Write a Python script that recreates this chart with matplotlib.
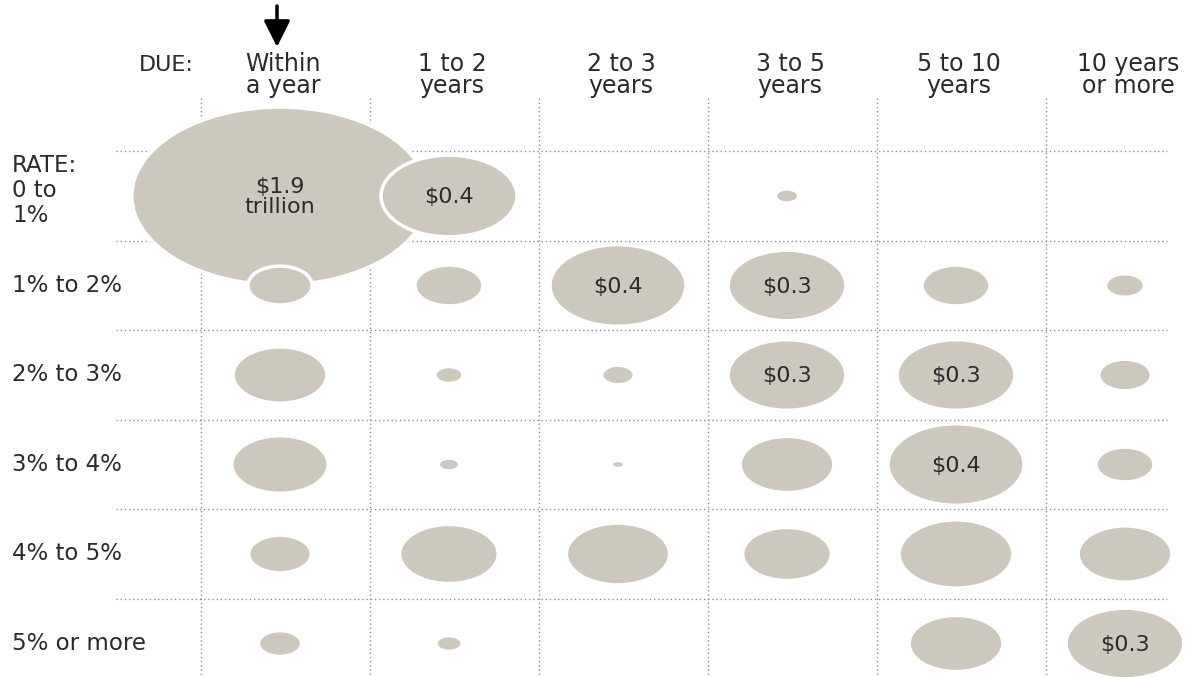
import matplotlib
matplotlib.use("Agg")
import matplotlib.pyplot as plt
from matplotlib.patches import Ellipse
import numpy as np

plt.rcParams['font.family'] = ['DejaVu Sans']

# ---- data (trillions of dollars) ----
due_labels = ["Within\na year", "1 to 2\nyears", "2 to 3\nyears", "3 to 5\nyears",
              "5 to 10\nyears", "10 years\nor more"]
rate_labels = ["RATE:\n0 to\n1%", "1% to 2%", "2% to 3%", "3% to 4%", "4% to 5%", "5% or more"]

row_0_1   = [1.9,   0.4,   0.0,   0.012, 0.0,  0.0]
row_1_2   = [0.09,  0.10,  0.4,   0.3,   0.10, 0.033]
row_2_3   = [0.19,  0.017, 0.023, 0.3,   0.3,  0.06]
row_3_4   = [0.20,  0.01,  0.004, 0.19,  0.4,  0.073]
row_4_5   = [0.085, 0.21,  0.23,  0.17,  0.28, 0.19]
row_5_up  = [0.04,  0.015, 0.0,   0.0,   0.19, 0.3]

# labels printed inside bubbles: (row, col, text)
bubble_labels = [(0, 0, "$1.9\ntrillion"), (0, 1, "$0.4"), (1, 2, "$0.4"), (1, 3, "$0.3"),
                 (2, 3, "$0.3"), (2, 4, "$0.3"), (3, 4, "$0.4"), (5, 5, "$0.3")]

values = np.array([row_0_1, row_1_2, row_2_3, row_3_4, row_4_5, row_5_up])

# ---- layout ----
W, H = 1190, 677
fig = plt.figure(figsize=(W / 100, H / 100), dpi=100)
ax = fig.add_axes([0, 0, 1, 1])
ax.set_axis_off()

col_px, row_px = 169.0, 89.5      # pixel size of one column / row
x0_px, y0_px = 280.0, 196.0       # pixel centre of first cell
ax.set_xlim(-x0_px / col_px, (W - x0_px) / col_px)
ax.set_ylim((H - y0_px) / row_px, -y0_px / row_px)

def px_y(p):   # pixel offset -> row units
    return p / row_px

def px_x(p):
    return p / col_px

fill = "#ccc8bd"
txt = "#2b2b2b"
grid = "#8f8f8f"
k_px = 215.0      # bubble width in px for value 1
aspect = 0.6      # height / width of the (stretched) bubbles

ncol = len(due_labels)
nrow = len(rate_labels)

# dotted grid lines
for j in range(nrow):
    ax.plot([-0.97, ncol - 0.75], [j - 0.5, j - 0.5], ls=(0, (1, 2)), lw=1.0,
            color=grid, zorder=1)
for i in range(ncol):
    ax.plot([i - 0.47, i - 0.47], [-1.1, nrow], ls=(0, (1, 2)), lw=1.0,
            color=grid, zorder=1)

# bubbles (biggest first so white outlines show over it)
order = sorted([(values[j, i], j, i) for j in range(nrow) for i in range(ncol)], reverse=True)
for v, j, i in order:
    if v <= 0:
        continue
    wpx = k_px * np.sqrt(v)
    e = Ellipse((i, j), width=wpx / col_px, height=aspect * wpx / row_px,
                facecolor=fill, edgecolor="white", lw=2.5, zorder=2)
    ax.add_patch(e)

for j, i, s in bubble_labels:
    ax.text(i, j + px_y(1), s, ha="center", va="center", fontsize=16, color=txt, zorder=3,
            linespacing=1.0)

# column headers (two lines, placed by baseline)
ax.text(px_x(-86), -1.397, "DUE:", ha="right", va="baseline", fontsize=16, color=txt)
for i, lab in enumerate(due_labels):
    for k, line in enumerate(lab.split("\n")):
        ax.text(i + px_x(3), -1.397 + k * px_y(22), line, ha="center", va="baseline",
                fontsize=17, color=txt)

# row labels
xl = px_x(12 - x0_px)
for j, lab in enumerate(rate_labels):
    lines = lab.split("\n")
    if len(lines) == 1:
        ax.text(xl, j + px_y(6), lab, ha="left", va="baseline", fontsize=16.5, color=txt)
    else:
        for k, line in enumerate(lines):
            ax.text(xl, j + px_y(-24 + 25 * k), line, ha="left", va="baseline",
                    fontsize=16.5, color=txt)

# arrow pointing at "Within a year"
ax.annotate("", xy=(px_x(-3), px_y(47 - y0_px)), xytext=(px_x(-3), px_y(6 - y0_px)),
            arrowprops=dict(arrowstyle="-|>,head_width=0.8,head_length=1.6",
                            mutation_scale=10, color="black", lw=2.5,
                            shrinkA=0, shrinkB=0))

fig.savefig("out.png", dpi=100)
